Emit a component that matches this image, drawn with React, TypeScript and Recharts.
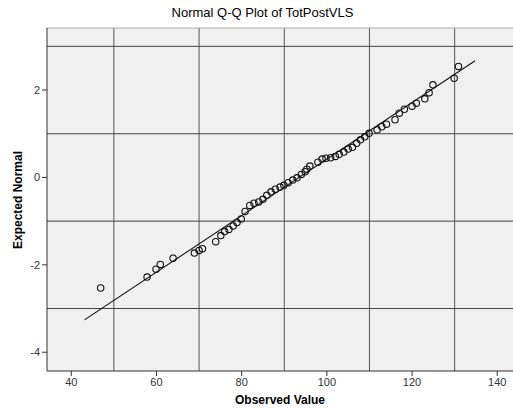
import React from 'react';
import { ScatterChart, Scatter, XAxis, YAxis, ReferenceLine, CartesianGrid } from 'recharts';

const observedValues = [
  46.9, 57.8, 59.9, 60.9, 63.9, 68.9, 70.0, 70.8, 73.9, 75.1, 76.0, 77.0, 78.0, 78.9, 79.9,
  80.8, 81.9, 82.9, 84.0, 85.0, 85.9, 86.9, 87.9, 89.0, 89.9, 90.9, 92.0, 93.0, 94.0, 94.9,
  95.3, 96.0, 97.9, 98.9, 99.8, 100.9, 102.0, 102.9, 104.0, 105.0, 106.0, 107.0, 107.9, 108.9,
  109.9, 111.8, 112.9, 114.0, 116.0, 117.0, 118.2, 120.0, 121.0, 123.0, 124.0, 124.9, 129.9, 130.9,
];
const expectedNormal = [
  -2.53, -2.28, -2.1, -1.99, -1.85, -1.73, -1.67, -1.63, -1.47, -1.33, -1.24, -1.19, -1.11, -1.03, -0.95,
  -0.78, -0.64, -0.59, -0.56, -0.5, -0.41, -0.33, -0.27, -0.22, -0.18, -0.12, -0.06, -0.01, 0.07, 0.13,
  0.19, 0.26, 0.35, 0.42, 0.44, 0.45, 0.48, 0.53, 0.58, 0.65, 0.69, 0.78, 0.86, 0.93,
  1.01, 1.09, 1.16, 1.22, 1.32, 1.47, 1.56, 1.63, 1.7, 1.8, 1.94, 2.12, 2.27, 2.54,
];

const fitLineX = [43.1, 134.8];
const fitLineY = [-3.26, 2.67];

const xTicks = [40, 60, 80, 100, 120, 140];
const yTicks = [-4, -2, 0, 2];
const xGrid = [50, 70, 90, 110, 130];
const yGrid = [-3, -1, 1, 3];

const xDomain: [number, number] = [34.3, 143.7];
const yDomain: [number, number] = [-4.43, 3.42];

const points = observedValues.map((x, i) => ({ x, y: expectedNormal[i] }));

const FONT = '"Liberation Sans", Arial, sans-serif';

const Ring = (props: any) => {
  const { cx, cy } = props;
  if (cx == null || cy == null) return null;
  return <circle cx={cx} cy={cy} r={3.2} fill="none" stroke="#111" strokeWidth={1.1} />;
};

export default function App() {
  return (
    <div style={{ position: 'absolute', left: 0, top: 0, width: 513, height: 409, background: '#fff', fontFamily: FONT }}>
      <div style={{ position: 'absolute', left: 0, width: 525, top: 5, textAlign: 'center', fontSize: 13, color: '#000' }}>
        Normal Q-Q Plot of TotPostVLS
      </div>
      <ScatterChart width={513} height={409} margin={{ top: 28, right: 0, bottom: 0, left: 0 }}>
        <CartesianGrid horizontal={false} vertical={false} fill="#F0F0F0" stroke="none" />
        {xGrid.map((v) => (
          <ReferenceLine key={'vx' + v} x={v} stroke="#555" strokeWidth={1} />
        ))}
        {yGrid.map((v) => (
          <ReferenceLine key={'hy' + v} y={v} stroke="#444" strokeWidth={1} />
        ))}
        <ReferenceLine y={yDomain[1]} stroke="#aaa" strokeWidth={1} />
        <XAxis
          type="number"
          dataKey="x"
          domain={xDomain}
          ticks={xTicks}
          height={38}
          allowDataOverflow
          tickSize={5}
          tickMargin={2}
          stroke="#333"
          tick={{ fill: '#333', fontSize: 11, fontFamily: FONT }}
          tickLine={{ stroke: '#333' }}
        />
        <YAxis
          type="number"
          dataKey="y"
          domain={yDomain}
          ticks={yTicks}
          width={47}
          allowDataOverflow
          tickSize={5}
          tickMargin={2}
          stroke="#333"
          tick={{ fill: '#333', fontSize: 11, fontFamily: FONT }}
          tickLine={{ stroke: '#333' }}
        />
        <ReferenceLine
          segment={[
            { x: fitLineX[0], y: fitLineY[0] },
            { x: fitLineX[1], y: fitLineY[1] },
          ]}
          stroke="#111"
          strokeWidth={1.1}
        />
        <Scatter data={points} shape={<Ring />} isAnimationActive={false} />
      </ScatterChart>
      <div style={{ position: 'absolute', left: 47, width: 466, top: 393, textAlign: 'center', fontSize: 12, fontWeight: 'bold', color: '#000' }}>
        Observed Value
      </div>
      <div
        style={{
          position: 'absolute',
          left: 18,
          top: 200,
          transform: 'translate(-50%, -50%) rotate(-90deg)',
          whiteSpace: 'nowrap',
          fontSize: 12,
          fontWeight: 'bold',
          color: '#000',
        }}
      >
        Expected Normal
      </div>
    </div>
  );
}
